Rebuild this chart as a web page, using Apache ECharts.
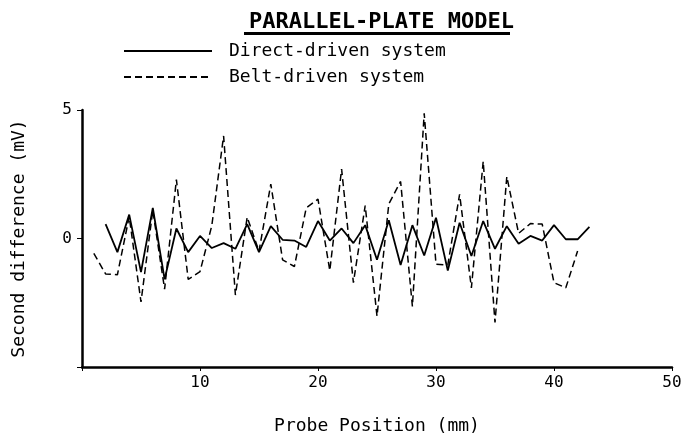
<!DOCTYPE html>
<html>
<head>
<meta charset="utf-8">
<script src="https://cdn.jsdelivr.net/npm/echarts@6/dist/echarts.min.js"></script>
<style>
  html, body { margin: 0; padding: 0; background: #fff; }
  #chart { width: 696px; height: 440px; }
</style>
</head>
<body>
<div id="chart"></div>
<script>
// probe positions (mm)
var directX = [2, 3, 4, 5, 6, 7, 8, 9, 10, 11, 12, 13, 14, 15, 16, 17, 18, 19, 20, 21, 22,
               23, 24, 25, 26, 27, 28, 29, 30, 31, 32, 33, 34, 35, 36, 37, 38, 39, 40, 41, 42, 43];
var directY = [0.56, -0.53, 0.93, -1.31, 1.19, -1.59, 0.39, -0.53, 0.1, -0.37, -0.18, -0.4, 0.56, -0.53,
               0.48, -0.05, -0.08, -0.33, 0.68, -0.08, 0.39, -0.18, 0.52, -0.83, 0.71, -1.03, 0.52, -0.66,
               0.81, -1.25, 0.61, -0.68, 0.68, -0.4, 0.48, -0.2, 0.1, -0.08, 0.52, -0.03, -0.03, 0.45];
var beltX = [1, 2, 3, 4, 5, 6, 7, 8, 9, 10, 11, 12, 13, 14, 15, 16, 17, 18, 19, 20, 21,
             22, 23, 24, 25, 26, 27, 28, 29, 30, 31, 32, 33, 34, 35, 36, 37, 38, 39, 40, 41, 42];
var beltY = [-0.58, -1.38, -1.41, 0.85, -2.47, 1.1, -1.97, 2.29, -1.59, -1.29, 0.5, 3.99, -2.2, 0.83,
             -0.5, 2.12, -0.83, -1.09, 1.19, 1.53, -1.25, 2.7, -1.72, 1.28, -3.02, 1.34, 2.22, -2.64,
             4.87, -1.0, -1.03, 1.72, -1.92, 3.0, -3.27, 2.41, 0.2, 0.58, 0.56, -1.72, -1.92, -0.49];
var xTicks = [10, 20, 30, 40, 50];
var yTicks = [0, 5];

function pairs(xs, ys) {
    var out = [];
    for (var i = 0; i < xs.length; i++) out.push([xs[i], ys[i]]);
    return out;
}

var font = 'DejaVu Sans Mono';

var option = {
    animation: false,
    backgroundColor: '#fff',
    title: {
        text: 'PARALLEL-PLATE MODEL',
        left: 244,
        top: 6,
        textStyle: { fontFamily: font, fontWeight: 'bold', fontSize: 22, color: '#000' }
    },
    // underline under the title
    graphic: [{
        type: 'rect',
        shape: { x: 244, y: 32, width: 266, height: 3 },
        style: { fill: '#000' }
    }],
    legend: {
        orient: 'vertical',
        left: 118,
        top: 37,
        itemWidth: 88,
        itemHeight: 14,
        itemGap: 8,
        itemStyle: { opacity: 0 },
        textStyle: { fontFamily: font, fontSize: 18, color: '#000', padding: [0, 0, 0, 12] },
        data: ['Direct-driven system', 'Belt-driven system']
    },
    grid: { left: 82, right: 24, top: 110, bottom: 63 },
    xAxis: {
        type: 'value',
        min: 0,
        max: 50,
        interval: 10,
        name: 'Probe Position (mm)',
        nameLocation: 'middle',
        nameGap: 50,
        nameTextStyle: { fontFamily: font, fontSize: 18, color: '#000' },
        axisLine: { onZero: false, lineStyle: { color: '#000', width: 2.5 } },
        axisTick: { length: 4, lineStyle: { color: '#000' } },
        axisLabel: {
            fontFamily: font, fontSize: 16, color: '#000', margin: 8,
            formatter: function (v) { return xTicks.indexOf(v) >= 0 ? String(v) : ''; }
        },
        splitLine: { show: false }
    },
    yAxis: {
        type: 'value',
        min: -5,
        max: 5,
        interval: 5,
        name: 'Second difference (mV)',
        nameLocation: 'middle',
        nameGap: 54,
        nameTextStyle: { fontFamily: font, fontSize: 18, color: '#000' },
        axisLine: { show: true, onZero: false, lineStyle: { color: '#000', width: 2.5 } },
        axisTick: { show: true, length: 5, lineStyle: { color: '#000' } },
        axisLabel: {
            fontFamily: font, fontSize: 16, color: '#000', margin: 10,
            formatter: function (v) { return yTicks.indexOf(v) >= 0 ? String(v) : ''; }
        },
        splitLine: { show: false }
    },
    series: [{
        name: 'Direct-driven system',
        type: 'line',
        symbol: 'none',
        data: pairs(directX, directY),
        lineStyle: { color: '#000', width: 1.8 },
        itemStyle: { color: '#000' }
    }, {
        name: 'Belt-driven system',
        type: 'line',
        symbol: 'none',
        data: pairs(beltX, beltY),
        lineStyle: { color: '#000', width: 1.5, type: [7, 4] },
        itemStyle: { color: '#000' }
    }]
};

var chart = echarts.init(document.getElementById('chart'));
chart.setOption(option);
</script>
</body>
</html>
